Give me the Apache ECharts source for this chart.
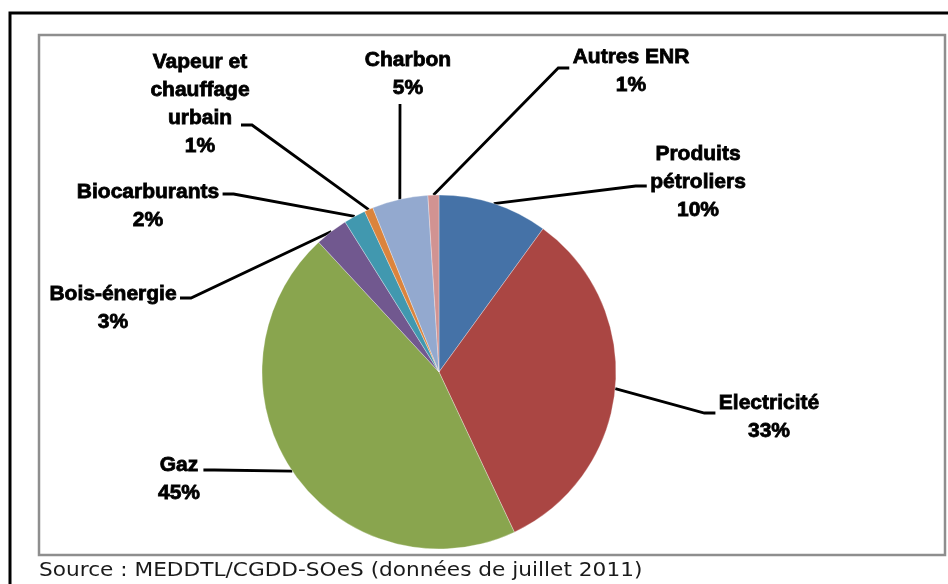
<!DOCTYPE html>
<html>
<head>
<meta charset="utf-8">
<script src="https://cdn.jsdelivr.net/npm/echarts@6/dist/echarts.min.js"></script>
<style>
  html, body { margin: 0; padding: 0; background: #fff; }
  #chart { width: 948px; height: 584px; }
</style>
</head>
<body>
<div id="chart"></div>
<script>
// slices, clockwise from 12 o'clock
const categories = [
  "Produits\npétroliers",
  "Electricité",
  "Gaz",
  "Bois-énergie",
  "Biocarburants",
  "Vapeur et\nchauffage\nurbain",
  "Charbon",
  "Autres ENR"
]
const shares = [10.0, 33.0, 45.1, 3.0, 2.0, 0.8, 5.1, 1.0]
const colors = ["#4572A7", "#AA4643", "#89A54E", "#71588F", "#4198AF", "#DB843D", "#93A9CF", "#D19392"]

// where each label sits (centre) and which side its leader line meets
const labelPos = [[698, 182], [769, 417], [179, 479], [113, 308], [148, 206], [200, 104], [408, 74], [631, 71]]
const labelAttach = [
  ["left", 0, 4], ["left", 0, -4], ["right", 0, -9], ["right", 0, -10],
  ["right", 0, -12], ["right", -12, 21], ["bottom", -8, 0], ["left", 0, -3]
]

const chart = echarts.init(document.getElementById("chart"), null, { renderer: "canvas" })

const option = {
  animation: false,
  color: colors,
  graphic: [
    { type: "rect", shape: { x: 10, y: 13, width: 980, height: 620 }, style: { fill: null, stroke: "#000", lineWidth: 3 }, silent: true },
    { type: "rect", shape: { x: 39, y: 35, width: 906, height: 520 }, style: { fill: null, stroke: "#8e8e8e", lineWidth: 2.5 }, silent: true },
    {
      type: "text", left: 39, top: 562, scaleX: 1.14,
      style: { text: "Source : MEDDTL/CGDD-SOeS (données de juillet 2011)", fontFamily: "DejaVu Sans", fontSize: 19, fill: "#1a1a1a" }
    }
  ],
  series: [
    {
      type: "pie",
      center: [439, 372],
      radius: 177,
      startAngle: 90,
      clockwise: true,
      avoidLabelOverlap: false,
      itemStyle: { borderColor: "rgba(255,255,255,0.6)", borderWidth: 0.5 },
      label: {
        show: true,
        position: "outside",
        color: "#000",
        fontFamily: "Liberation Sans, Arial, sans-serif",
        fontWeight: "bold",
        fontSize: 21,
        lineHeight: 28,
        textBorderColor: "#000",
        textBorderWidth: 0.8,
        formatter: (p) => p.name + "\n" + Math.round(p.percent) + "%"
      },
      labelLine: { show: true, length: 10, length2: 10, lineStyle: { color: "#000", width: 2.8 } },
      labelLayout: (params) => {
        const i = params.dataIndex
        const [cx, cy] = labelPos[i]
        const w = params.labelRect.width
        const h = params.labelRect.height
        const [side, dx, dy] = labelAttach[i]
        const anchor = params.labelLinePoints[0]
        let end, elbow
        if (side === "left") {
          end = [cx - w / 2 - 3 + dx, cy + dy]
          elbow = [end[0] - 11, end[1]]
        } else if (side === "right") {
          end = [cx + w / 2 + 3 + dx, cy + dy]
          elbow = [end[0] + 11, end[1]]
        } else {
          end = [cx + dx, cy + h / 2 + 2]
          elbow = [end[0], end[1] + 4]
        }
        return {
          x: cx, y: cy, align: "center", verticalAlign: "middle",
          labelLinePoints: [anchor, elbow, end]
        }
      },
      data: categories.map((name, i) => ({ name, value: shares[i] }))
    }
  ]
}

chart.setOption(option)
</script>
</body>
</html>
